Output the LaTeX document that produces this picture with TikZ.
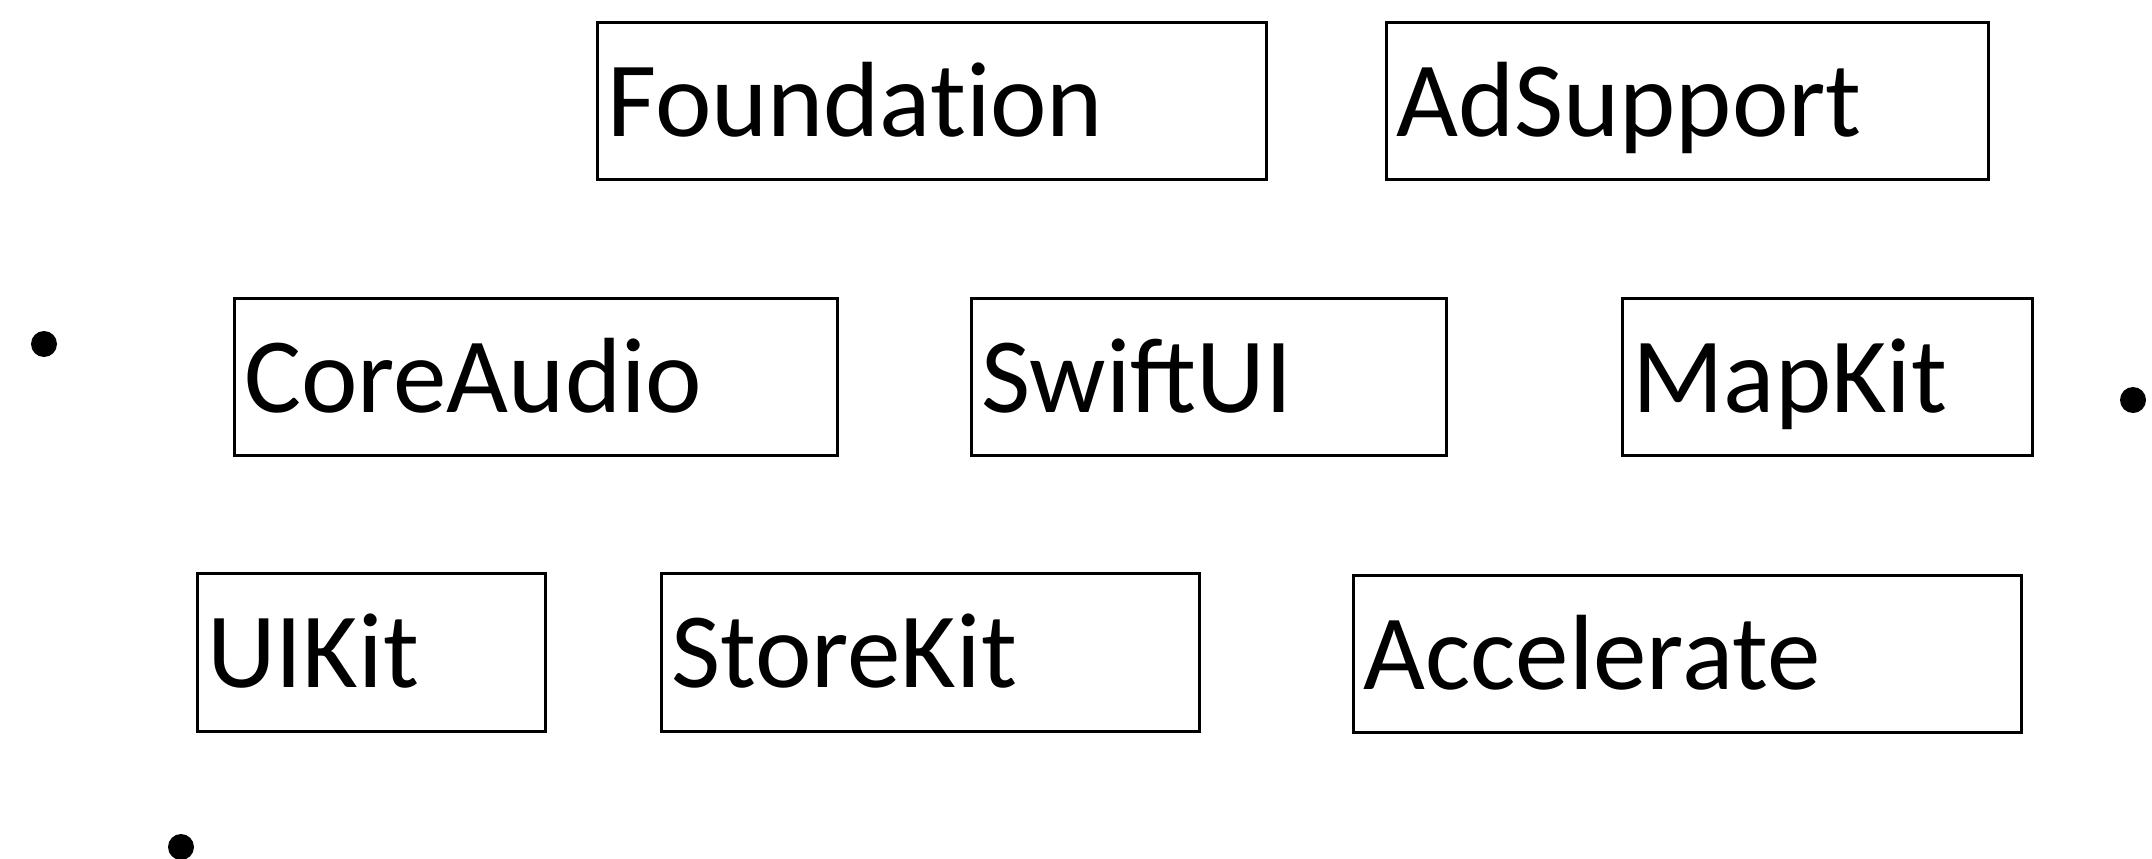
\documentclass[tikz,border=0pt]{standalone}
\usepackage{fontspec}
\setmainfont[Ligatures=NoCommon]{Carlito}
\newfontfamily\ligfont{Carlito}
\begin{document}
\begin{tikzpicture}[x=1pt,y=-1pt,
  fw/.style n args={2}{draw=black, line width=2.6pt, rectangle, anchor=north west,
    inner xsep=10pt, inner ysep=0pt, text width=#1pt-20pt, align=left,
    text height=114pt, text depth=#2pt-114pt,
    font=\fontsize{107}{128}\selectfont},
  dot/.style={circle, fill=black, inner sep=0pt, minimum size=26pt}]
\useasboundingbox (0,0) rectangle (2152,859);
\node[fw={669}{157}] (foundation) at (596,21) {Foundation};
\node[fw={602}{157}] (adsupport) at (1385,21) {AdSupport};
\node[fw={603}{157}] (coreaudio) at (233,297) {CoreAudio};
\node[fw={475}{157}] (swiftui) at (970,297) {\ligfont SwiftUI};
\node[fw={410}{157}] (mapkit) at (1621,297) {MapKit};
\node[fw={348}{158}] (uikit) at (196,572) {UIKit};
\node[fw={538}{158}] (storekit) at (660,572) {StoreKit};
\node[fw={668}{157}] (accelerate) at (1352,574) {Accelerate};
\node[dot] (b1) at (44,344) {};
\node[dot] (b2) at (2133,400) {};
\node[dot] (b3) at (181,847) {};
\end{tikzpicture}
\end{document}
